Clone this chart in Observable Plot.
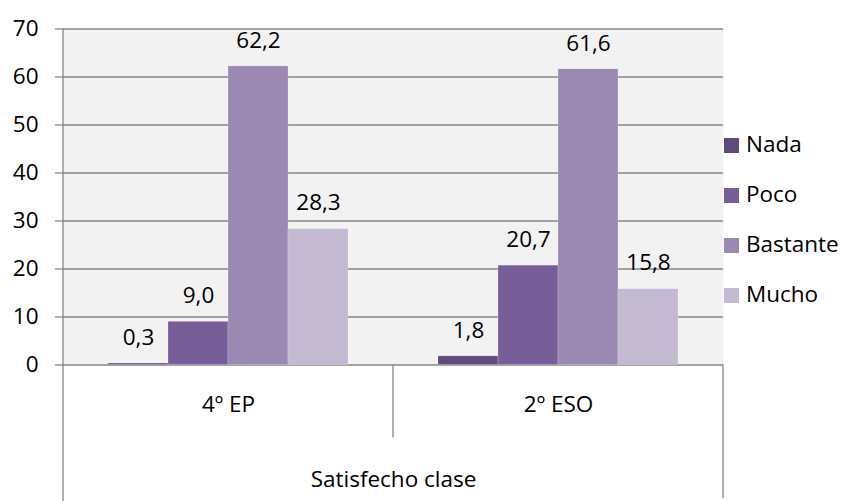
<!DOCTYPE html>
<html><head><meta charset="utf-8">
<script src="https://cdn.jsdelivr.net/npm/d3@7"></script>
<script src="https://cdn.jsdelivr.net/npm/@observablehq/plot@0.6"></script>
<style>
body{margin:0;background:#fff;}
#wrap{position:relative;width:841px;height:501px;font-family:"Open Sans",sans-serif;overflow:hidden;}
#legend{position:absolute;left:724px;top:118px;}
.item{display:flex;align-items:center;height:50px;font-size:22.5px;color:#000;white-space:nowrap;}
.sw{width:15px;height:15px;margin-right:7px;margin-top:4px;}
</style></head><body><div id="wrap"></div><script>
const groups = ["4º EP", "2º ESO"];
const series = ["Nada", "Poco", "Bastante", "Mucho"];
const valuesEP = [0.3, 9.0, 62.2, 28.3];
const valuesESO = [1.8, 20.7, 61.6, 15.8];
const yTicks = [0, 10, 20, 30, 40, 50, 60, 70];
const colors = ["#604a7b", "#775e98", "#9b89b4", "#c3b9d1"];
const axisTitle = "Satisfecho clase";

const values = [valuesEP, valuesESO];
const data = [];
groups.forEach((g, gi) => series.forEach((s, si) => data.push({group: g, series: s, value: values[gi][si]})));
const fmt = d3.formatLocale({decimal: ",", thousands: ".", grouping: [3], currency: ["", "€"]}).format(".1f");

const chart = Plot.plot({
  width: 841, height: 501,
  marginLeft: 62, marginRight: 118, marginTop: 28.5, marginBottom: 136.5,
  style: {fontFamily: "Open Sans", fontSize: "22.5px", color: "#000", background: "transparent", overflow: "visible"},
  fx: {domain: groups, padding: 0},
  x: {domain: series, paddingInner: 0, paddingOuter: 0.74, axis: null},
  y: {domain: [0, 70], axis: null},
  color: {domain: series, range: colors},
  marks: [
    Plot.frame({fill: "#f2f2f2", stroke: null}),
    Plot.gridY(yTicks, {stroke: "#868686", strokeOpacity: 1, strokeWidth: 1.3}),
    Plot.barY(data, {fx: "group", x: "series", y: "value", fill: "series", stroke: "#fff", strokeOpacity: 0.35, strokeWidth: 0.6}),
    Plot.text(data, {fx: "group", x: "series", y: "value", text: d => fmt(d.value), dy: -26, fill: "#000"}),
    Plot.axisY(yTicks, {tickSize: 8, tickPadding: 17, stroke: "#868686", strokeWidth: 1.3, fill: "#000", label: null, tickFormat: d => String(d)}),
    Plot.axisFx({anchor: "bottom", tickSize: 0, tickPadding: 31, fill: "#000", label: axisTitle, labelAnchor: "center", labelOffset: 122})
  ]
});

const wrap = document.getElementById("wrap");
wrap.appendChild(chart);

// category box lines, positioned from the library's scales
const fxS = chart.scale("fx");
const yS = chart.scale("y");
const starts = groups.map(g => fxS.apply(g));
const end = starts[starts.length - 1] + fxS.bandwidth;
const y0 = yS.apply(0), yTop = yS.apply(70);
const svg = d3.select(chart);
const g = svg.append("g").attr("stroke", "#868686").attr("stroke-width", 1.3);
g.append("line").attr("x1", starts[0]).attr("x2", starts[0]).attr("y1", yTop).attr("y2", 501);
starts.slice(1).forEach(x => g.append("line").attr("x1", x).attr("x2", x).attr("y1", y0).attr("y2", y0 + 73));
g.append("line").attr("x1", end).attr("x2", end).attr("y1", y0).attr("y2", 498);

// legend
const color = chart.scale("color");
const leg = d3.select(wrap).append("div").attr("id", "legend");
series.forEach(s => {
  const it = leg.append("div").attr("class", "item");
  it.append("div").attr("class", "sw").style("background", color.apply(s));
  it.append("span").text(s);
});
</script></body></html>
